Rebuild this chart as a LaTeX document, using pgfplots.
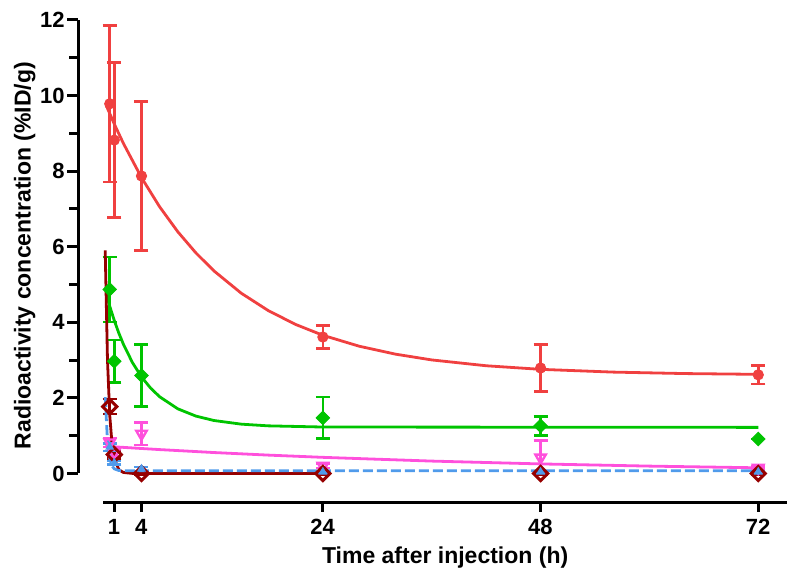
\documentclass[border=0pt]{standalone}
\usepackage{fontspec}
\setmainfont{Liberation Sans}
\usepackage{pgfplots}
\pgfplotsset{compat=1.18}
\definecolor{cred}{RGB}{240,64,64}
\definecolor{cgreen}{RGB}{0,196,0}
\definecolor{cdark}{RGB}{150,0,0}
\definecolor{cpink}{RGB}{255,80,220}
\definecolor{cblue}{RGB}{80,155,235}
\pgfplotsset{
  ebar/.style={error bars/.cd, y dir=both, y explicit,
    error bar style={color=#1, line width=1.3pt, solid},
    error mark options={color=#1, rotate=90, mark size=3.5pt, line width=1.3pt, solid}},
}
\begin{document}
\begin{tikzpicture}
\useasboundingbox (0,0) rectangle (400pt,290.5pt);
% data axis with y axis
\begin{axis}[
  at={(39pt,53.75pt)}, anchor=south west,
  x=4.535pt, y=18.9pt,
  xmin=-3, xmax=75.3, ymin=0, ymax=12,
  axis x line=none, axis y line*=left,
  clip=false,
  xtick=\empty,
  ytick={0,2,...,12}, minor ytick={1,3,...,11},
  tick align=outside, major tick length=5.5pt, minor tick length=4.5pt,
  tick style={black, line width=1.5pt},
  axis line style={black, line width=1.5pt},
  yticklabel style={font=\bfseries\fontsize{11}{13}\selectfont, inner sep=1pt},
  /pgf/number format/assume math mode=true,
  every axis y label/.style={at={(rel axis cs:-0.0592,0.48)}, anchor=south, rotate=90, inner sep=0pt,
     font=\bfseries\fontsize{11.5}{13}\selectfont},
  ylabel={Radioactivity concentration (\%ID/g)},
]
% red
\addplot[cred, line width=1.4pt, mark=none] coordinates {
(0.1,9.742) (1,9.246) (2,8.735) (4,7.828) (6,7.055) (8,6.396) (10,5.835) (12,5.357)
(15,4.769) (18,4.306) (21,3.942) (24,3.656) (28,3.367) (32,3.157) (36,3.004)
(42,2.850) (48,2.755) (56,2.682) (64,2.643) (72,2.623)};
\addplot[cred, only marks, mark=*, mark size=2.6pt, ebar=cred] table[x=t, y=y, y error=e] {
t y e
0.5 9.78 2.07
1 8.82 2.05
4 7.87 1.97
24 3.61 0.30
48 2.79 0.62
72 2.61 0.24
};
% green
\addplot[cgreen, line width=1.4pt, mark=none] coordinates {
(0.1,4.760) (0.5,4.424) (1,4.047) (1.5,3.715) (2,3.422) (3,2.935) (4,2.555) (5,2.260)
(6,2.030) (8,1.711) (10,1.518) (12,1.401) (15,1.305) (18,1.260) (24,1.229) (72,1.220)};
\addplot[cgreen, only marks, mark=square*, mark size=2.4pt, mark options={rotate=45}, ebar=cgreen] table[x=t, y=y, y error=e] {
t y e
0.5 4.87 0.86
1 2.97 0.56
4 2.59 0.82
24 1.47 0.55
48 1.26 0.25
72 0.91 0
};
% pink
\addplot[cpink, line width=1.4pt, mark=none] coordinates {
(0,0.72) (6,0.632) (12,0.554) (18,0.486) (24,0.427) (36,0.328) (48,0.253) (60,0.195) (72,0.150)};
\addplot[cpink, only marks, mark=triangle, mark size=3pt, mark options={rotate=180, line width=1.2pt}, ebar=cpink] table[x=t, y=y, y error=e] {
t y e
0.5 0.82 0.12
1 0.55 0.10
4 1.05 0.30
24 0.20 0.06
48 0.42 0.46
72 0.15 0.03
};
% dark red
\addplot[cdark, line width=1.4pt, mark=none] coordinates {
(0,5.9) (0.25,3.01) (0.5,1.537) (0.75,0.784) (1,0.40) (1.5,0.104) (2,0.027) (3,0.002) (4,0) (24,0)};
\addplot[cdark, only marks, mark=square, mark size=2.5pt, mark options={rotate=45, line width=1.5pt}, ebar=cdark] table[x=t, y=y, y error=e] {
t y e
0.5 1.77 0.20
1 0.50 0.10
4 0.00 0.02
24 0.00 0.02
48 0.00 0.02
72 0.00 0.02
};
% blue
\addplot[cblue, line width=1.4pt, dash pattern=on 5pt off 2pt, mark=none] coordinates {
(0,2.02) (0.25,0.863) (0.5,0.392) (0.75,0.201) (1,0.123) (1.5,0.079) (2,0.07) (72,0.07)};
\addplot[cblue, only marks, mark=triangle*, mark size=2.2pt, ebar=cblue] table[x=t, y=y, y error=e] {
t y e
0.5 0.70 0.10
1 0.28 0.05
4 0.12 0.05
24 0.04 0.02
48 0.04 0.02
72 0.04 0.02
};
\end{axis}
% x axis
\begin{axis}[
  at={(51.6pt,39pt)}, anchor=south west,
  x=4.535pt, y=10pt,
  xmin=-0.2, xmax=75.2, ymin=0, ymax=1,
  axis y line=none, axis x line*=bottom,
  ytick=\empty,
  xtick={1,4,24,48,72},
  tick align=outside, major tick length=4.5pt,
  tick style={black, line width=1.5pt},
  axis line style={black, line width=1.5pt},
  xticklabel style={font=\bfseries\fontsize{11}{13}\selectfont},
  /pgf/number format/assume math mode=true,
  every axis x label/.style={at={(rel axis cs:0.5,0)}, anchor=base, yshift=-30.25pt, inner sep=0pt,
     font=\bfseries\fontsize{11.5}{13}\selectfont},
  xlabel={Time after injection (h)},
]
\end{axis}
\end{tikzpicture}
\end{document}
